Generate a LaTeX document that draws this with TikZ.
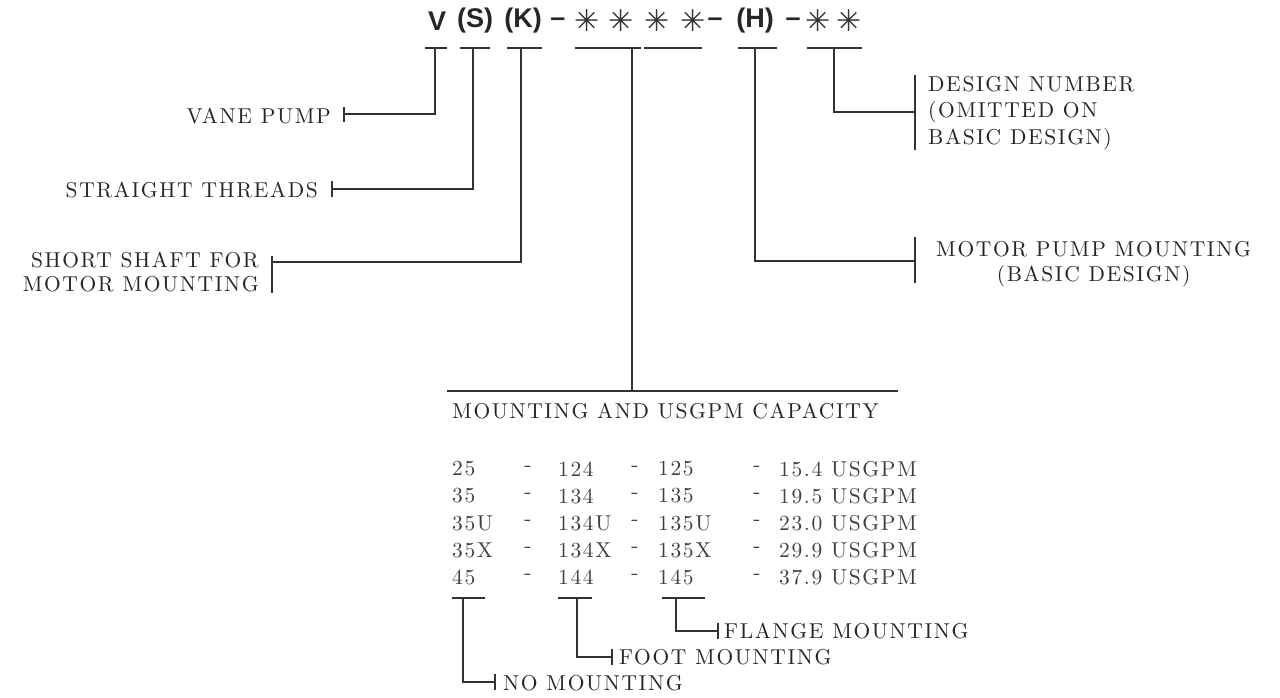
\documentclass[tikz,border=0pt]{standalone}
\usepackage{fontspec}
\newfontfamily\hdrff{Liberation Sans}
\newfontfamily\symff{DejaVu Sans}
\newfontfamily\labff{lmroman10-regular.otf}[LetterSpace=7.5]
\newcommand\hdrfont{\hdrff\bfseries\fontsize{27}{30}\selectfont}
\newcommand\astfont{\symff\fontsize{30}{32}\selectfont}
\newcommand\labfont{\labff\fontsize{21.5}{24}\selectfont}
\newcommand\labfontD{\labff\fontsize{21.5}{26.5}\selectfont}
\newcommand\labfontM{\labff\fontsize{21.5}{25}\selectfont}
\begin{document}
\begin{tikzpicture}[x=1pt,y=-1pt,
  ln/.style={draw=black!80, line width=1.1pt},
  hd/.style={font=\hdrfont, inner sep=0pt, text=black!85},
  ast/.style={font=\astfont, inner sep=0pt, text=black!80},
  lab/.style={font=\labfont, inner sep=0pt, text=black!85},
  tab/.style={font=\labfont, inner sep=0pt, text=black!75}]
\useasboundingbox[fill=white] (0,0) rectangle (1280,697);

% header
\node[hd] (V) at (437,21) {V};
\node[hd] (S) at (475,21) {(S)};
\node[hd] (K) at (523,21) {(K)};
\node[hd] (d1) at (558,22) {–};
\node[ast] (a1) at (587,21) {✳};
\node[ast] (a2) at (621,21) {✳};
\node[ast] (a3) at (657,21) {✳};
\node[ast] (a4) at (693,21) {✳};
\node[hd] (d2) at (715,22) {–};
\node[hd] (H) at (755,21) {(H)};
\node[hd] (d3) at (793,22) {–};
\node[ast] (a5) at (818,21) {✳};
\node[ast] (a6) at (849,21) {✳};

% underlines
\draw[ln] (425,48) -- (447,48);
\draw[ln] (460,48) -- (490,48);
\draw[ln] (507,48) -- (542,48);
\draw[ln] (575,48) -- (641,48);
\draw[ln] (644,48) -- (702,48);
\draw[ln] (738,48) -- (777,48);
\draw[ln] (807,48) -- (862,48);
\coordinate (uV) at (435,48);
\coordinate (uS) at (473,48);
\coordinate (uK) at (521,48);
\coordinate (uA) at (632,48);
\coordinate (uH) at (755,48);
\coordinate (uD) at (834,48);

% left labels
\node[lab, anchor=east] (vane) at (331,116) {VANE PUMP};
\node[lab, anchor=east] (thr) at (318,190) {STRAIGHT THREADS};
\node[lab, anchor=east, align=right] (shaft) at (259,272) {SHORT SHAFT FOR\\MOTOR MOUNTING};
\coordinate (tV) at (344,114);
\coordinate (tS) at (332,189);
\coordinate (tK) at (272,262);
\draw[ln] (uV) |- (tV);
\draw[ln] (tV) ++(0,-7) -- ++(0,15);
\draw[ln] (uS) |- (tS);
\draw[ln] (tS) ++(0,-8) -- ++(0,16);
\draw[ln] (uK) |- (tK);
\draw[ln] (tK) ++(0,-6) -- ++(0,37);

% right labels
\node[lab, anchor=west, align=left, font=\labfontD] (des) at (928,113) {DESIGN NUMBER\\(OMITTED ON\\BASIC DESIGN)};
\node[lab, anchor=west, align=center, font=\labfontM] (mot) at (936,264) {MOTOR PUMP MOUNTING\\(BASIC DESIGN)};
\coordinate (tD) at (915,112);
\coordinate (tH) at (915,261);
\draw[ln] (uD) |- (tD);
\draw[ln] (tD) ++(0,-37) -- ++(0,75);
\draw[ln] (uH) |- (tH);
\draw[ln] (tH) ++(0,-24) -- ++(0,46);

% capacity block
\coordinate (bA) at (632,391);
\draw[ln] (uA) -- (bA);
\draw[ln] (447,391) -- (898,391);
\node[lab, anchor=west] (cap) at (452,411) {MOUNTING AND USGPM CAPACITY};

\foreach \r/\y/\a/\b/\c/\v in {1/469/25/124/125/15.4, 2/496/35/134/135/19.5, 3/523/35U/134U/135U/23.0, 4/550/35X/134X/135X/29.9, 5/577/45/144/145/37.9} {
  \node[tab, anchor=west] (c1r\r) at (452,\y) {\a};
  \node[tab] (d1r\r) at (528,\y) {-};
  \node[tab, anchor=west] (c2r\r) at (558,\y) {\b};
  \node[tab] (d2r\r) at (635,\y) {-};
  \node[tab, anchor=west] (c3r\r) at (658,\y) {\c};
  \node[tab] (d3r\r) at (757,\y) {-};
  \node[tab, anchor=west] (vr\r) at (779,\y) {\v\ USGPM};
}

% bottom brackets
\draw[ln] (452,598) -- (485,598);
\draw[ln] (558,598) -- (592,598);
\draw[ln] (662,598) -- (705,598);
\coordinate (u1) at (463,598);
\coordinate (u2) at (577,598);
\coordinate (u3) at (676,598);
\node[lab, anchor=west] (nom) at (503,683) {NO MOUNTING};
\node[lab, anchor=west] (foot) at (619,657) {FOOT MOUNTING};
\node[lab, anchor=west] (flange) at (724,631) {FLANGE MOUNTING};
\coordinate (t1) at (495,682);
\coordinate (t2) at (612,657);
\coordinate (t3) at (718,631);
\draw[ln] (u1) |- (t1);
\draw[ln] (t1) ++(0,-8) -- ++(0,16);
\draw[ln] (u2) |- (t2);
\draw[ln] (t2) ++(0,-8) -- ++(0,16);
\draw[ln] (u3) |- (t3);
\draw[ln] (t3) ++(0,-8) -- ++(0,16);
\end{tikzpicture}
\end{document}
